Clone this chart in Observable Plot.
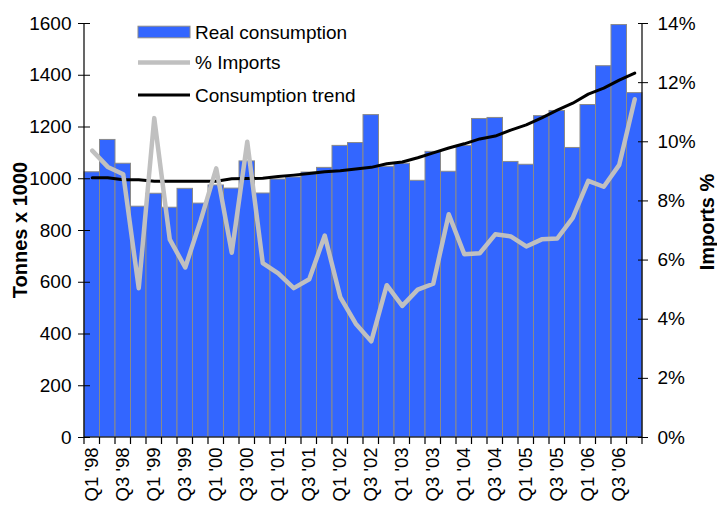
<!DOCTYPE html>
<html><head><meta charset="utf-8">
<script src="https://cdn.jsdelivr.net/npm/d3@7"></script>
<script src="https://cdn.jsdelivr.net/npm/@observablehq/plot@0.6"></script>
<style>
body{margin:0;background:#fff;}
#wrap{position:relative;width:717px;height:513px;}
</style></head><body><div id="wrap"></div>
<script>
const quarters = [
 "Q1 '98","Q2 '98","Q3 '98","Q4 '98","Q1 '99","Q2 '99","Q3 '99","Q4 '99",
 "Q1 '00","Q2 '00","Q3 '00","Q4 '00","Q1 '01","Q2 '01","Q3 '01","Q4 '01",
 "Q1 '02","Q2 '02","Q3 '02","Q4 '02","Q1 '03","Q2 '03","Q3 '03","Q4 '03",
 "Q1 '04","Q2 '04","Q3 '04","Q4 '04","Q1 '05","Q2 '05","Q3 '05","Q4 '05",
 "Q1 '06","Q2 '06","Q3 '06","Q4 '06"];
const consumption = [1025,1150,1058,892,942,888,961,904,974,962,1067,943,997,1005,1024,1042,
 1127,1138,1246,1046,1058,992,1104,1027,1127,1231,1235,1065,1054,1242,1262,1119,1285,1435,1594,1331];
const importsPct = [9.7,9.15,8.9,5.05,10.8,6.7,5.75,7.35,9.1,6.25,10.0,5.9,5.55,5.05,5.35,6.83,
 4.75,3.85,3.25,5.15,4.45,5.0,5.2,7.55,6.2,6.23,6.87,6.8,6.46,6.7,6.73,7.43,8.68,8.48,9.22,11.44];
const consumptionTrend = [1004,1004,996,996,990,990,990,990,990,1000,1001,1002,1009,1014,1020,1027,
 1031,1038,1044,1058,1065,1081,1100,1119,1135,1154,1165,1188,1208,1235,1265,1292,1327,1350,1381,1408];
const tonneTicks = [0,200,400,600,800,1000,1200,1400,1600];
const pctTicks = [0,2,4,6,8,10,12,14];
const xLabelQuarters = quarters.filter((q,i)=> i%2===0);
const seriesNames = ["Real consumption","% Imports","Consumption trend"];

const BLUE = "#3366ff", GREY = "#c0c0c0", EDGE = "#8a8a8a";
const FONT = "'Liberation Sans', Arial, sans-serif";
const PCT_MAX = 14, T_MAX = 1600;
const toT = p => p * T_MAX / PCT_MAX;

const data = quarters.map((q,i)=>({q, cons: consumption[i], imp: toT(importsPct[i]), trend: consumptionTrend[i]}));

const chart = Plot.plot({
  width:717, height:513, marginLeft:84, marginRight:75, marginTop:23, marginBottom:76,
  style:{fontFamily:FONT, fontSize:"19px", color:"#000", background:"#fff", overflow:"visible"},
  x:{type:"band", domain:quarters, padding:0, round:false, label:null},
  y:{domain:[0,T_MAX], label:null},
  marks:[
    Plot.barY(data,{x:"q", y:"cons", fill:BLUE, stroke:EDGE, strokeWidth:1}),
    Plot.line(data,{x:"q", y:"trend", stroke:"#000", strokeWidth:3, strokeLinejoin:"round"}),
    Plot.line(data,{x:"q", y:"imp", stroke:GREY, strokeWidth:4.5, strokeLinejoin:"round", strokeLinecap:"round"}),
    Plot.axisY(tonneTicks,{anchor:"left", tickSize:12, dx:6, tickPadding:7, fontSize:19,
      tickFormat:d=>String(d), label:null}),
    Plot.axisY(pctTicks.map(toT),{anchor:"right", tickSize:10, dx:-5, tickPadding:10, fontSize:19,
      tickFormat:d=>Math.round(d*PCT_MAX/T_MAX)+"%", label:null}),
    Plot.axisX(xLabelQuarters,{anchor:"bottom", tickSize:0, tickPadding:10, tickRotate:-90, fontSize:18.5, label:null})
  ]
});
document.getElementById("wrap").appendChild(chart);

const svg = d3.select(chart);
const xs = chart.scale("x"), ys = chart.scale("y");
const bw = xs.bandwidth;
const x0 = xs.apply(quarters[0]), x1 = xs.apply(quarters[quarters.length-1]) + bw;
const yb = ys.apply(0), yt = ys.apply(T_MAX);
const g = svg.append("g").attr("stroke","#000").attr("stroke-width",1.2);
g.append("line").attr("x1",x0).attr("x2",x0).attr("y1",yt).attr("y2",yb);
g.append("line").attr("x1",x1).attr("x2",x1).attr("y1",yt).attr("y2",yb);
g.append("line").attr("x1",x0).attr("x2",x1).attr("y1",yb).attr("y2",yb);
const bounds = quarters.map(q=>xs.apply(q)).concat([x1]);
g.selectAll(null).data(bounds).join("line")
  .attr("x1",d=>d).attr("x2",d=>d).attr("y1",yb).attr("y2",yb+7);

// axis titles
svg.append("text").text("Tonnes x 1000")
  .attr("transform",`translate(20,${(yb+yt)/2}) rotate(-90)`)
  .attr("text-anchor","middle").attr("dominant-baseline","central")
  .attr("font-family",FONT).attr("font-size",20).attr("font-weight","bold").attr("fill","#000");
svg.append("text").text("Imports %")
  .attr("transform",`translate(707,222) rotate(-90)`)
  .attr("text-anchor","middle").attr("dominant-baseline","central")
  .attr("font-family",FONT).attr("font-size",20).attr("font-weight","bold").attr("fill","#000");

// legend
const lg = svg.append("g").attr("font-family",FONT).attr("font-size",19).attr("fill","#000")
  .attr("text-anchor","start");
const rows = [32, 62.5, 95];
lg.append("rect").attr("x",138).attr("y",rows[0]-5.8).attr("width",52).attr("height",11.6)
  .attr("fill",BLUE).attr("stroke",EDGE).attr("stroke-width",1);
lg.append("line").attr("x1",138).attr("x2",190).attr("y1",rows[1]).attr("y2",rows[1])
  .attr("stroke",GREY).attr("stroke-width",4.5);
lg.append("line").attr("x1",138).attr("x2",190).attr("y1",rows[2]).attr("y2",rows[2])
  .attr("stroke","#000").attr("stroke-width",3);
seriesNames.forEach((n,i)=>{
  lg.append("text").text(n).attr("x",195).attr("y",rows[i])
    .attr("text-anchor","start").attr("dominant-baseline","central");
});
</script></body></html>
